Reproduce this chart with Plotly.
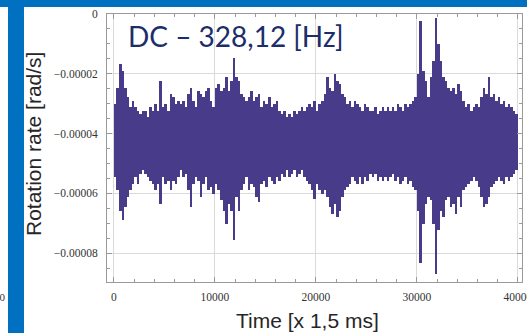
import plotly.graph_objects as go

# Rotation-rate record: per-bin extremes (max, min), one pair per BIN samples,
# given in units of 1e-6 rad/s.
BIN = 250
upper_urad = [
    -30.1, -24.6, -16.8, -19.0, -24.6, -27.9, -31.2, -29.0, -31.2, -32.3,
    -33.4, -32.3, -32.3, -34.6, -31.2, -32.3, -30.1, -32.3, -22.3, -31.2,
    -30.1, -32.3, -26.8, -27.9, -30.1, -29.0,
    -30.1, -29.0, -31.2, -26.8, -24.6, -29.0, -31.2, -25.7, -26.8, -27.9,
    -25.7, -24.6, -29.0, -31.2, -24.6, -23.4, -25.7, -24.6, -21.2, -25.7,
    -22.3, -14.6, -21.2, -22.3, -26.8, -27.9, -29.0,
    -27.9, -25.7, -29.0, -27.9, -26.8, -31.2, -29.0, -30.1, -27.9, -31.2,
    -30.1, -29.0, -32.3, -33.4, -32.3, -34.6, -33.4, -34.6, -32.3, -33.4,
    -32.3, -31.2, -32.3, -31.2, -30.1, -31.2, -29.0,
    -32.3, -30.1, -29.0, -26.8, -21.2, -24.6, -25.7, -20.1, -22.3, -23.4,
    -26.8, -27.9, -30.1, -29.0, -31.2, -29.0, -30.1, -31.2, -32.3, -30.1,
    -31.2, -32.3, -32.3, -31.2, -33.4, -32.3, -31.2,
    -32.3, -31.2, -32.3, -31.2, -32.3, -30.1, -31.2, -32.3, -30.1, -31.2,
    -30.1, -29.0, -27.9, -20.1, -2.3, -19.0, -22.3, -27.9, -21.2, -15.7,
    -1.2, -10.1, -15.7, -21.2, -22.3, -24.6, -25.7,
    -24.6, -26.8, -23.4, -25.7, -29.0, -31.2, -30.1, -32.3, -31.2, -30.1,
    -31.2, -27.9, -24.6, -26.8, -21.2, -27.9, -26.8, -29.0, -27.9, -30.1,
    -29.0, -31.2, -30.1, -31.2, -32.3, -33.4,
]
lower_urad = [
    -54.6, -59.0, -65.7, -69.0, -64.6, -61.2, -59.0, -56.8, -54.6, -56.8,
    -53.4, -52.3, -53.4, -54.6, -55.7, -56.8, -59.0, -56.8, -63.4, -54.6,
    -56.8, -55.7, -59.0, -55.7, -56.8, -54.6,
    -52.3, -54.6, -53.4, -59.0, -64.6, -56.8, -54.6, -55.7, -61.2, -56.8,
    -54.6, -59.0, -57.9, -60.1, -56.8, -59.0, -62.3, -65.7, -70.1, -63.4,
    -65.7, -75.7, -61.2, -65.7, -59.0, -56.8, -54.6,
    -59.0, -56.8, -57.9, -61.2, -62.9, -56.8, -55.7, -57.9, -54.6, -55.7,
    -56.8, -54.6, -55.7, -53.4, -54.6, -52.3, -54.6, -53.4, -52.3, -54.6,
    -53.4, -52.3, -54.6, -55.7, -56.8, -59.0, -61.8,
    -56.8, -59.0, -60.1, -59.0, -61.2, -64.6, -66.8, -63.4, -67.9, -65.7,
    -61.2, -59.0, -57.9, -56.8, -54.6, -55.7, -56.8, -54.6, -56.8, -54.6,
    -55.7, -53.4, -54.6, -53.4, -55.7, -54.6, -55.7,
    -54.6, -55.7, -54.6, -53.4, -55.7, -54.6, -56.8, -55.7, -54.6, -56.8,
    -55.7, -57.9, -59.0, -65.7, -83.4, -70.1, -63.4, -61.2, -62.3, -70.1,
    -87.0, -72.3, -65.7, -67.9, -62.3, -61.2, -64.6,
    -63.4, -66.8, -61.2, -64.6, -59.0, -57.9, -56.8, -55.7, -54.6, -55.7,
    -57.9, -61.2, -64.6, -63.4, -61.2, -57.9, -56.8, -55.7, -54.6, -55.7,
    -56.8, -54.6, -55.7, -54.6, -53.4, -52.3,
]

x_ticks = [0, 10000, 20000, 30000, 40000]
x_ticktext = ["0", "10000", "20000", "30000", "40000"]
y_ticks = [0, -0.00002, -0.00004, -0.00006, -0.00008]
y_ticktext = ["0", "\u22120.00002", "\u22120.00004", "\u22120.00006", "\u22120.00008"]

W, H = 527, 333
L, R, T, B = 107, 5, 14, 51
pw, ph = W - L - R, H - T - B


def px(x):
    return (x - L) / pw


def py(y):
    return (H - B - y) / ph


fig = go.Figure()

# min-to-max swing of every bin, drawn edge to edge
fig.add_trace(go.Bar(
    x=[i * BIN + BIN / 2 for i in range(len(upper_urad))],
    base=[lo * 1e-6 for lo in lower_urad],
    y=[(hi - lo) * 1e-6 for hi, lo in zip(upper_urad, lower_urad)],
    width=BIN,
    marker=dict(color="#483c8a", line=dict(width=0)),
    hoverinfo="skip", showlegend=False,
))

axis_common = dict(
    showline=True, linecolor="#9a9a9a", linewidth=1, mirror="allticks",
    ticks="inside", ticklen=5, tickcolor="#9a9a9a",
    showgrid=True, gridcolor="#dadada", gridwidth=1, zeroline=False,
    tickfont=dict(family="Liberation Serif", size=11.5, color="#333333"),
    ticklabeloverflow="allow", automargin=False,
)

fig.update_xaxes(
    range=[-690, 40400], tickvals=x_ticks, ticktext=x_ticktext,
    ticklabelstandoff=4,
    minor=dict(dtick=2000, tick0=0, ticks="inside", ticklen=3,
               tickcolor="#9a9a9a", showgrid=False),
    **axis_common,
)
fig.update_yaxes(
    range=[-0.0000896, 0], tickvals=y_ticks, ticktext=y_ticktext,
    ticklabelstandoff=6,
    minor=dict(dtick=0.000005, tick0=0, ticks="inside", ticklen=3,
               tickcolor="#9a9a9a", showgrid=False),
    **axis_common,
)

shapes = [
    # slide frame: top band and left band
    dict(type="rect", xref="paper", yref="paper",
         x0=px(0), x1=px(W), y0=py(7), y1=py(0),
         fillcolor="#0070C0", line=dict(width=0), layer="above"),
    dict(type="rect", xref="paper", yref="paper",
         x0=px(8), x1=px(24), y0=py(H), y1=py(0),
         fillcolor="#0070C0", line=dict(width=0), layer="above"),
]

annotations = [
    dict(text="DC \u2013 328,12 [Hz]", xref="paper", yref="paper",
         x=px(126), y=py(36), xanchor="left", yanchor="middle",
         showarrow=False, font=dict(family="Lato", size=28, color="#1B2E6B")),
    dict(text="Rotation rate [rad/s]", xref="paper", yref="paper",
         x=px(33), y=py(144), xanchor="center", yanchor="middle",
         textangle=-90, showarrow=False,
         font=dict(family="Liberation Sans", size=21, color="#262626")),
    dict(text="Time [x 1,5 ms]", xref="paper", yref="paper",
         x=px(307), y=py(320), xanchor="center", yanchor="middle",
         showarrow=False,
         font=dict(family="Liberation Sans", size=21, color="#262626")),
    dict(text="00", xref="paper", yref="paper",
         x=px(8), y=py(297), xanchor="right", yanchor="middle",
         showarrow=False,
         font=dict(family="Liberation Serif", size=11, color="#333333")),
]

fig.update_layout(
    width=W, height=H,
    margin=dict(l=L, r=R, t=T, b=B, pad=0),
    paper_bgcolor="white", plot_bgcolor="white",
    shapes=shapes, annotations=annotations,
    showlegend=False, bargap=0,
)

fig.write_html("out.html")
